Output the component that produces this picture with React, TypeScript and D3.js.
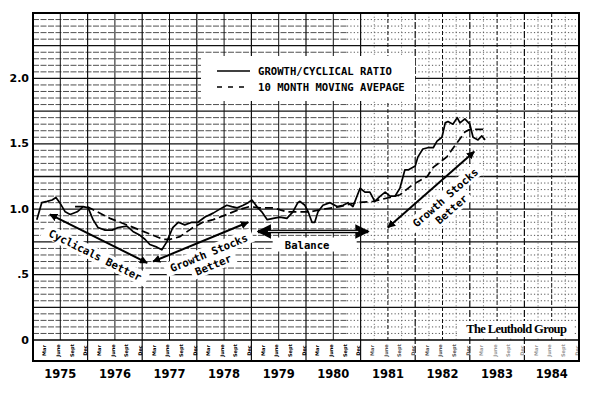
import React from 'react'
import * as d3 from 'd3'

// growth/cyclical ratio (roughly monthly)
const ratioDates = [1975.07, 1975.16, 1975.26, 1975.35, 1975.42, 1975.49, 1975.59, 1975.68, 1975.81, 1975.92,
  1976.01, 1976.10, 1976.19, 1976.32, 1976.45, 1976.56, 1976.72, 1976.83, 1976.96, 1977.05,
  1977.14, 1977.27, 1977.36, 1977.45, 1977.56, 1977.66, 1977.78, 1977.91, 1978.02, 1978.15,
  1978.30, 1978.46, 1978.55, 1978.64, 1978.74, 1978.85, 1978.94, 1979.01, 1979.10, 1979.19,
  1979.29, 1979.40, 1979.52, 1979.65, 1979.76, 1979.85, 1979.89, 1979.98, 1980.04, 1980.11,
  1980.16, 1980.22, 1980.31, 1980.44, 1980.57, 1980.68, 1980.77, 1980.86, 1980.99, 1981.08,
  1981.17, 1981.26, 1981.36, 1981.45, 1981.54, 1981.63, 1981.72, 1981.81, 1981.87, 1982.00,
  1982.05, 1982.14, 1982.23, 1982.33, 1982.40, 1982.49, 1982.55, 1982.60, 1982.69, 1982.77,
  1982.82, 1982.91, 1983.00, 1983.06, 1983.15, 1983.22, 1983.28]
const ratioValues = [0.92, 1.05, 1.06, 1.07, 1.09, 1.05, 0.98, 0.96, 0.98, 1.02,
  1.01, 0.92, 0.86, 0.84, 0.84, 0.86, 0.87, 0.83, 0.80, 0.77,
  0.73, 0.71, 0.69, 0.75, 0.86, 0.90, 0.88, 0.90, 0.90, 0.94,
  0.97, 1.01, 1.03, 1.02, 1.01, 1.03, 1.05, 1.07, 1.02, 0.98,
  0.92, 0.93, 0.94, 0.93, 0.98, 1.05, 1.06, 1.03, 0.98, 0.90,
  0.90, 0.98, 1.03, 1.05, 1.02, 1.03, 1.05, 1.02, 1.16, 1.13,
  1.13, 1.06, 1.10, 1.13, 1.10, 1.10, 1.16, 1.30, 1.30, 1.33,
  1.40, 1.46, 1.47, 1.47, 1.52, 1.55, 1.66, 1.67, 1.65, 1.70,
  1.66, 1.69, 1.65, 1.55, 1.53, 1.56, 1.53]

// 10 month moving average
const avgDates = [1975.77, 1975.99, 1976.41, 1976.78, 1977.14, 1977.38, 1977.51, 1977.69, 1977.93, 1978.11,
  1978.30, 1978.55, 1978.79, 1978.97, 1979.16, 1979.40, 1979.65, 1979.85, 1980.07, 1980.31,
  1980.62, 1980.93, 1981.23, 1981.54, 1981.72, 1981.96, 1982.22, 1982.33, 1982.58, 1982.77,
  1982.91, 1983.00, 1983.28]
const avgValues = [1.02, 1.02, 0.93, 0.87, 0.81, 0.77, 0.77, 0.79, 0.86, 0.90,
  0.92, 0.96, 1.00, 1.02, 1.01, 1.01, 0.98, 0.98, 0.98, 1.00,
  1.02, 1.05, 1.06, 1.09, 1.11, 1.19, 1.25, 1.32, 1.40, 1.51,
  1.59, 1.61, 1.61]

const yTicks = [0, 0.5, 1.0, 1.5, 2.0]
const yTickLabels = ['0', '.5', '1.0', '1.5', '2.0']
const years = [1975, 1976, 1977, 1978, 1979, 1980, 1981, 1982, 1983, 1984]
const months = ['Mar', 'June', 'Sept', 'Dec']
const monthOffsets = [2.5 / 12, 5.5 / 12, 8.5 / 12, 11.5 / 12]

// annotation arrows [t0, v0, t1, v1]
const arrows = [
  [1975.31, 0.96, 1977.09, 0.59],
  [1977.20, 0.60, 1978.94, 0.90],
  [1981.50, 0.86, 1983.08, 1.44],
]
const balanceArrow = [1979.12, 0.83, 1981.14, 0.83]
// annotation texts: label, t, v, arrow index for angle
const notes: [string, number, number, number][] = [
  ['Cyclicals Better', 1976.14, 0.65, 0],
  ['Growth Stocks', 1978.22, 0.667, 1],
  ['Better', 1978.30, 0.575, 1],
  ['Growth Stocks', 1982.55, 1.09, 2],
  ['Better', 1982.66, 1.0, 2],
]

const W = 595
const H = 394
const left = 33, right = 579, top = 13, zeroY = 340, stripBottom = 361

export default function App() {
  const x = d3.scaleLinear().domain([1975, 1985]).range([left, right])
  const y = d3.scaleLinear().domain([0, 2.5]).range([zeroY, top])
  const split = x(1980.75)

  const ratio = ratioDates.map((d, i) => [d, ratioValues[i]] as [number, number])
  const avg = avgDates.map((d, i) => [d, avgValues[i]] as [number, number])
  const line = d3.line<[number, number]>().x(d => x(d[0])).y(d => y(d[1]))

  const minor = d3.range(1, 50).map(i => i * 0.05).filter((v, i) => (i + 1) % 5 !== 0)
  const major = d3.range(1, 10).map(i => i * 0.25)
  const halfYears = years.map(yr => yr + 0.5)
  const quarters = years.flatMap(yr => [yr + 0.25, yr + 0.75])

  const angle = (a: number[]) =>
    Math.atan2(y(a[3]) - y(a[1]), x(a[2]) - x(a[0])) * 180 / Math.PI

  const mono = 'DejaVu Sans Mono, monospace'

  return (
    <svg width={W} height={H} style={{ position: 'absolute', left: 0, top: 0, background: '#fff' }}>
      <defs>
        <marker id="ah" viewBox="0 0 10 10" refX="9" refY="5" markerWidth="4" markerHeight="4"
          orient="auto-start-reverse" markerUnits="strokeWidth">
          <path d="M0,0 L10,5 L0,10 z" fill="#000" />
        </marker>
      </defs>
      <rect x={0} y={0} width={W} height={H} fill="#fff" />

      {/* grid: minor horizontals */}
      {minor.map(v => (
        <g key={'mn' + v}>
          <line x1={left} x2={split} y1={y(v)} y2={y(v)} stroke="#222" strokeWidth={0.8} strokeDasharray="6,1.5" />
          <line x1={split} x2={right} y1={y(v)} y2={y(v)} stroke="#444" strokeWidth={0.9} strokeDasharray="1.2,2.2" />
        </g>
      ))}
      {major.map(v => (
        <line key={'mj' + v} x1={left} x2={right} y1={y(v)} y2={y(v)} stroke="#111" strokeWidth={1.3} />
      ))}
      {/* grid: verticals */}
      {quarters.filter(t => x(t) > split).map(t => (
        <line key={'q' + t} x1={x(t)} x2={x(t)} y1={top} y2={zeroY} stroke="#555" strokeWidth={0.8} strokeDasharray="1.2,2.5" />
      ))}
      {halfYears.map(t => (
        <line key={'h' + t} x1={x(t)} x2={x(t)} y1={top} y2={zeroY} stroke="#111"
          strokeWidth={1} strokeDasharray={x(t) > split ? '4,2' : undefined} />
      ))}
      {years.slice(1).map(t => (
        <line key={'y' + t} x1={x(t)} x2={x(t)} y1={top} y2={stripBottom} stroke="#111"
          strokeWidth={1.2} strokeDasharray={x(t) > split + 60 ? '7,2' : undefined} />
      ))}

      {/* white backgrounds for notes */}
      <rect x={201} y={56} width={214} height={45} fill="#fff" />
      {notes.map(([label, t, v, ai], i) => (
        <rect key={'nb' + i} x={-label.length * 3.4 - 3} y={-7} width={label.length * 6.8 + 6} height={14} fill="#fff"
          transform={`translate(${x(t)},${y(v)}) rotate(${angle(arrows[ai])})`} />
      ))}
      <rect x={x(1979.5) - 6} y={y(0.73) - 7} width={84} height={14} fill="#fff" />
      <rect x={x(1983.85) - 58} y={321} width={116} height={16} fill="#fff" />

      {/* series */}
      <path d={line(avg) ?? ''} fill="none" stroke="#000" strokeWidth={1.7} strokeDasharray="8,4" />
      <path d={line(ratio) ?? ''} fill="none" stroke="#000" strokeWidth={1.7} strokeLinejoin="round" />

      {/* annotation arrows */}
      {arrows.map((a, i) => (
        <line key={'ar' + i} x1={x(a[0])} y1={y(a[1])} x2={x(a[2])} y2={y(a[3])} stroke="#000" strokeWidth={2}
          markerStart="url(#ah)" markerEnd="url(#ah)" />
      ))}
      <line x1={x(balanceArrow[0])} y1={y(balanceArrow[1])} x2={x(balanceArrow[2])} y2={y(balanceArrow[3])}
        stroke="#000" strokeWidth={3.6} markerStart="url(#ah)" markerEnd="url(#ah)" />
      <line x1={x(balanceArrow[0]) + 10} y1={y(balanceArrow[1])} x2={x(balanceArrow[2]) - 10} y2={y(balanceArrow[3])}
        stroke="#fff" strokeWidth={0.9} />

      {notes.map(([label, t, v, ai], i) => (
        <text key={'nt' + i} x={0} y={0} textAnchor="middle" dominantBaseline="central"
          fontFamily={mono} fontWeight="bold" fontSize={10.6}
          transform={`translate(${x(t)},${y(v)}) rotate(${angle(arrows[ai])})`}>{label}</text>
      ))}
      <text x={x(1980.02)} y={y(0.73)} textAnchor="middle" dominantBaseline="central"
        fontFamily={mono} fontWeight="bold" fontSize={10.6}>Balance</text>

      {/* legend */}
      <line x1={217} x2={250} y1={71} y2={71} stroke="#000" strokeWidth={1.6} />
      <text x={258} y={75} fontFamily={mono} fontSize={10.6} fontWeight="600">GROWTH/CYCLICAL RATIO</text>
      <line x1={217} x2={250} y1={87} y2={87} stroke="#000" strokeWidth={1.6} strokeDasharray="5,6" />
      <text x={258} y={91} fontFamily={mono} fontSize={10.6} fontWeight="600">10 MONTH MOVING AVEPAGE</text>

      <text x={x(1983.85)} y={333} textAnchor="middle" fontFamily="Liberation Serif, serif" fontWeight="bold"
        fontSize={12.5} letterSpacing={-0.6}>The Leuthold Group</text>

      {/* month strip */}
      {years.flatMap(yr => months.map((m, j) => (
        <text key={yr + m} x={0} y={0} textAnchor="middle" dominantBaseline="central" fontSize={5}
          fontFamily="DejaVu Sans, sans-serif" fontWeight="bold"
          fill={yr >= 1983 ? '#999' : yr >= 1981 ? '#555' : '#000'}
          transform={`translate(${x(yr + monthOffsets[j])},${(zeroY + stripBottom) / 2}) rotate(-90)`}>{m}</text>
      )))}

      {/* frame */}
      <line x1={left} x2={right} y1={zeroY} y2={zeroY} stroke="#000" strokeWidth={1.6} />
      <rect x={left} y={top} width={right - left} height={stripBottom - top} fill="none" stroke="#000" strokeWidth={2} />

      {/* axis labels */}
      {yTicks.map((v, i) => (
        <text key={'yt' + v} x={29} y={y(v)} textAnchor="end" dominantBaseline="central"
          fontFamily="DejaVu Sans, sans-serif" fontWeight="bold" fontSize={11}>{yTickLabels[i]}</text>
      ))}
      {years.map(yr => (
        <text key={'yl' + yr} x={x(yr + 0.5)} y={378} textAnchor="middle"
          fontFamily="DejaVu Sans, sans-serif" fontWeight="bold" fontSize={11.5}>{yr}</text>
      ))}
    </svg>
  )
}
